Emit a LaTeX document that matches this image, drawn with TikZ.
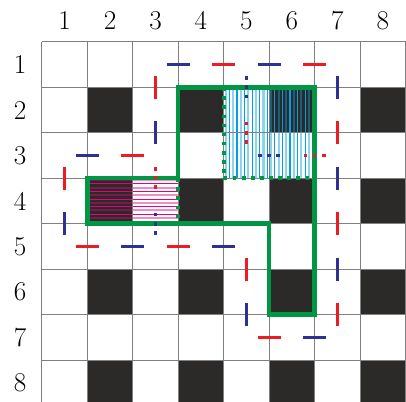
\documentclass[tikz,border=0pt]{standalone}
\definecolor{sq}{RGB}{43,42,41}
\definecolor{gridc}{RGB}{128,128,128}
\definecolor{grn}{RGB}{0,150,68}
\definecolor{dblue}{RGB}{46,49,146}
\definecolor{dred}{RGB}{237,28,36}
\definecolor{cyanl}{RGB}{0,160,227}
\definecolor{mag}{RGB}{230,0,126}
\begin{document}
\begin{tikzpicture}[
  gridline/.style={draw=gridc, line width=0.6pt},
  darksq/.style={fill=sq},
  lightvl/.style={draw=cyanl, opacity=0.45, line width=1.3pt},
  strongvl/.style={draw=cyanl, line width=0.7pt},
  lighthl/.style={draw=mag, opacity=0.45, line width=1.3pt},
  stronghl/.style={draw=mag, line width=0.7pt},
  greenwall/.style={draw=grn, line width=2.8pt, line join=miter},
  greendots/.style={draw=grn, line width=2.4pt, dash pattern=on 0.08cm off 0.12cm},
  outerdash/.style={line width=2pt, dash pattern=on 0.5cm off 1.5cm},
  innerdots/.style={line width=2.2pt, dash pattern=on 0.08cm off 0.12cm on 0.08cm off 0.12cm on 0.08cm off 1.52cm},
  lbl/.style={inner sep=0pt, font=\fontsize{17}{20}\selectfont}
]
\useasboundingbox (-0.92,-7.92) rectangle (8.01,0.92);
\begin{scope}
\clip (-0.92,-7.92) rectangle (8.01,0.92);
\fill[white] (-0.92,-7.92) rectangle (8.01,0.92);
% dark squares
\foreach \r in {2,4,6,8} \foreach \c in {2,4,6,8}
  \fill[darksq] (\c-1,-\r+1) rectangle (\c,-\r);
% blue vertical hatching
\foreach \i in {0,2,...,22}
  \draw[lightvl] ({4+(\i+0.5)/12},-1) -- ({4+(\i+0.5)/12},-3);
\foreach \i in {1,3,...,23}
  \draw[strongvl] ({4+(\i+0.5)/12},-1) -- ({4+(\i+0.5)/12},-3);
% magenta horizontal hatching
\foreach \i in {0,2,...,10}
  \draw[lighthl] (1,{-3-(\i+0.5)/12}) -- (3,{-3-(\i+0.5)/12});
\foreach \i in {1,3,...,11}
  \draw[stronghl] (1,{-3-(\i+0.5)/12}) -- (3,{-3-(\i+0.5)/12});
% grid
\draw[gridline] (0,0) grid (8,-8);
% green walls
\draw[greenwall] (3,-1) -- (6,-1) -- (6,-6) -- (5,-6) -- (5,-4) -- (1,-4) -- (1,-3) -- (3,-3) -- cycle;
\draw[greendots] (4,-1) -- (4,-3) -- (6,-3);
\draw[greendots] (3,-3) -- (3,-4);
% outer dashed outline
\draw[outerdash, dblue, dash phase=1.75cm] (2.5,-0.5) -- (6.5,-0.5) -- (6.5,-6.5) -- (4.5,-6.5) -- (4.5,-4.5) -- (0.5,-4.5) -- (0.5,-2.5) -- (2.5,-2.5) -- cycle;
\draw[outerdash, dred, dash phase=0.75cm] (2.5,-0.5) -- (6.5,-0.5) -- (6.5,-6.5) -- (4.5,-6.5) -- (4.5,-4.5) -- (0.5,-4.5) -- (0.5,-2.5) -- (2.5,-2.5) -- cycle;
% inner dotted lines
\draw[innerdots, dblue, dash phase=1.74cm] (4.5,-0.5) -- (4.5,-2.5) -- (6.5,-2.5);
\draw[innerdots, dred, dash phase=0.74cm] (4.5,-0.5) -- (4.5,-2.5) -- (6.5,-2.5);
\draw[innerdots, dred, dash phase=1.74cm] (2.5,-2.5) -- (2.5,-4.5);
\draw[innerdots, dblue, dash phase=0.74cm] (2.5,-2.5) -- (2.5,-4.5);
\end{scope}
% labels
\foreach \k in {1,...,8} {
  \node[lbl] (col\k) at (\k-0.5,0.47) {\k};
  \node[lbl] (row\k) at (-0.48,-\k+0.5) {\k};
}
\end{tikzpicture}
\end{document}
